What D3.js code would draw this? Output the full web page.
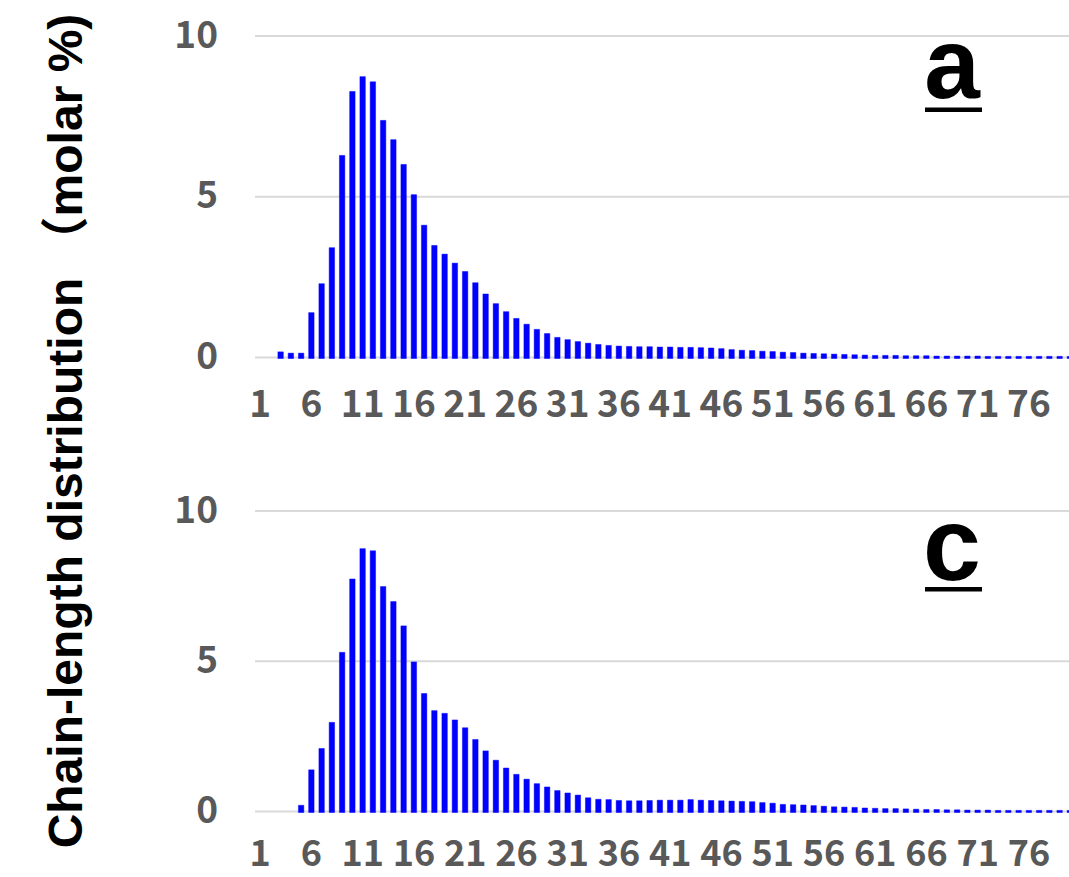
<!DOCTYPE html>
<html>
<head>
<meta charset="utf-8">
<script src="https://cdn.jsdelivr.net/npm/d3@7"></script>
<style>
  html, body { margin: 0; padding: 0; background: #fff; }
  svg { display: block; }
</style>
</head>
<body>
<svg id="chart" width="1069" height="877"></svg>
<script>
// Chain length (degree of polymerisation) categories
const chainLengths = [
  1,2,3,4,5,6,7,8,9,10,11,12,13,14,15,16,17,18,19,20,
  21,22,23,24,25,26,27,28,29,30,31,32,33,34,35,36,37,38,39,40,
  41,42,43,44,45,46,47,48,49,50,51,52,53,54,55,56,57,58,59,60,
  61,62,63,64,65,66,67,68,69,70,71,72,73,74,75,76,77,78,79,80
];

// Sample a: molar % per chain length (null = not detected)
const seriesA = [
  null,null,0.16,0.12,0.12,1.38,2.28,3.40,6.27,8.26,
  8.72,8.56,7.36,6.76,5.99,5.05,4.10,3.47,3.20,2.92,
  2.66,2.31,1.96,1.66,1.41,1.20,1.02,0.86,0.73,0.61,
  0.54,0.48,0.43,0.39,0.36,0.34,0.33,0.32,0.32,0.31,
  0.31,0.30,0.30,0.29,0.28,0.26,0.23,0.21,0.20,0.18,
  0.17,0.15,0.14,0.12,0.11,0.10,0.09,0.08,0.07,0.06,
  0.05,0.05,0.05,0.04,0.04,0.04,0.03,0.03,0.03,0.03,
  0.03,0.02,0.02,0.02,0.02,0.02,0.02,0.02,0.02,0.02
];

// Sample c: molar % per chain length
const seriesC = [
  null,null,null,null,0.19,1.37,2.08,2.95,5.28,7.72,
  8.73,8.66,7.47,6.97,6.16,4.96,3.91,3.34,3.25,3.03,
  2.77,2.38,2.00,1.69,1.43,1.22,1.06,0.91,0.80,0.68,
  0.60,0.53,0.44,0.39,0.38,0.35,0.34,0.34,0.35,0.36,
  0.36,0.36,0.38,0.36,0.35,0.34,0.33,0.32,0.31,0.28,
  0.26,0.22,0.21,0.20,0.18,0.16,0.14,0.13,0.12,0.10,
  0.09,0.08,0.08,0.07,0.06,0.05,0.05,0.04,0.04,0.03,
  0.03,0.03,0.02,0.02,0.02,0.02,0.02,0.02,0.02,0.02
];

const yTicks = [0, 5, 10];
const xTickLabels = ["1","6","11","16","21","26","31","36","41","46","51","56","61","66","71","76"];
const panelLabels = ["a", "c"];
const yTitle = "Chain-length distribution （molar %)";

const svg = d3.select("#chart");
const W = 1069;

const plotLeft = 255;
const band = 10.25;
const x = d3.scaleBand()
  .domain(chainLengths.map(String))
  .range([plotLeft, plotLeft + band * chainLengths.length])
  .paddingInner(0.47)
  .paddingOuter(0.235);

const tickFont = "'Noto Sans CJK JP', 'Noto Sans', sans-serif";
const tickColor = "#595959";

function drawPanel(values, label, yZero, yTen, letterBaseline, letterSize, underlineY, xLabelOffset, xLabelSize) {
  const y = d3.scaleLinear().domain([0, 10]).range([yZero, yTen]);
  const g = svg.append("g");

  // horizontal gridlines
  g.selectAll("line.grid")
    .data(yTicks)
    .join("line")
    .attr("class", "grid")
    .attr("x1", plotLeft).attr("x2", W)
    .attr("y1", d => y(d)).attr("y2", d => y(d))
    .attr("stroke", "#d9d9d9")
    .attr("stroke-width", 2);

  // y axis tick labels
  const yAxis = d3.axisLeft(y).tickValues(yTicks).tickSize(0).tickPadding(0).tickFormat(d3.format("d"));
  const ya = g.append("g").attr("transform", `translate(218,0)`).call(yAxis);
  ya.select(".domain").remove();
  ya.selectAll("text")
    .attr("font-family", tickFont)
    .attr("font-weight", "bold")
    .attr("font-size", 37)
    .attr("fill", tickColor)
    .attr("dy", "0.30em");

  // bars
  const data = chainLengths.map((c, i) => ({ c: String(c), v: values[i] })).filter(d => d.v != null);
  g.selectAll("rect.bar")
    .data(data)
    .join("rect")
    .attr("class", "bar")
    .attr("x", d => x(d.c))
    .attr("width", x.bandwidth())
    .attr("y", d => y(d.v) - 0.5)
    .attr("height", d => Math.max(1, y(0) - y(d.v) + 1.5))
    .attr("fill", "#0000ff")
    .attr("stroke", "#0000ff")
    .attr("stroke-opacity", 0.45)
    .attr("stroke-width", 1)
    .attr("stroke-linejoin", "round");

  // x axis labels every 5th chain length
  const xa = d3.axisBottom(x)
    .tickValues(xTickLabels)
    .tickSize(0)
    .tickPadding(0);
  const xg = g.append("g").attr("transform", `translate(0,${yZero + xLabelOffset})`).call(xa);
  xg.select(".domain").remove();
  xg.selectAll("text")
    .attr("font-family", tickFont)
    .attr("font-weight", "bold")
    .attr("font-size", xLabelSize)
    .attr("fill", tickColor)
    .attr("dy", "0.71em");

  // panel letter with underline
  g.append("text")
    .attr("x", 952)
    .attr("y", letterBaseline)
    .attr("text-anchor", "middle")
    .attr("font-family", "'Liberation Sans', Arial, sans-serif")
    .attr("font-weight", "bold")
    .attr("font-size", letterSize)
    .attr("fill", "#000")
    .text(label);
  g.append("rect")
    .attr("x", 925).attr("width", 57)
    .attr("y", underlineY).attr("height", 4.5)
    .attr("fill", "#000");
}

drawPanel(seriesA, panelLabels[0], 357.5, 36, 98, 100, 107.5, 33.5, 37);
drawPanel(seriesC, panelLabels[1], 811.5, 511, 580, 104, 587, 29, 36);

// shared y axis title
svg.append("text")
  .attr("transform", "translate(82,431) rotate(-90)")
  .attr("text-anchor", "middle")
  .attr("font-family", "'Liberation Sans', 'Noto Sans CJK JP', sans-serif")
  .attr("font-weight", "bold")
  .attr("font-size", 48)
  .attr("fill", "#000")
  .text(yTitle);
</script>
</body>
</html>
